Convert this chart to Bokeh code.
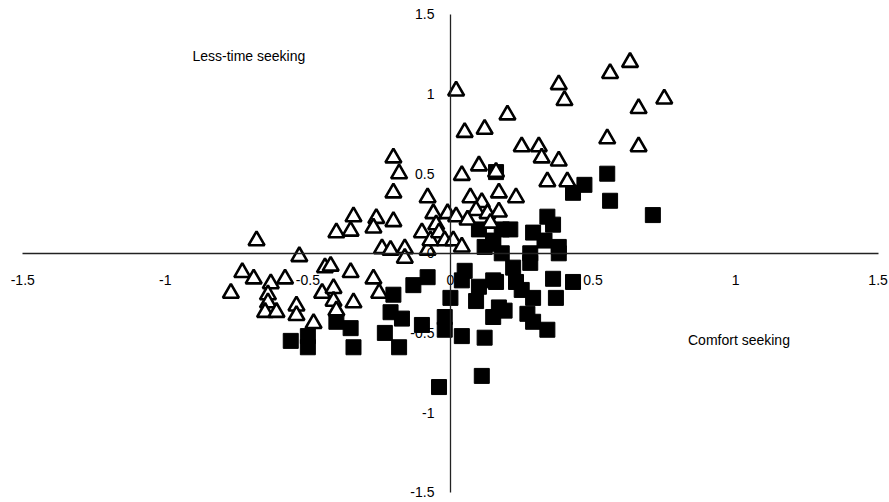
from bokeh.plotting import figure
from bokeh.models import Range1d, FixedTicker, Label
from bokeh.embed import file_html
from bokeh.resources import INLINE

# Less-time seeking group (open triangles)
tri_x = [-0.77, -0.73, -0.69, -0.68, -0.63, -0.64, -0.64, -0.65, -0.61, -0.58,
         -0.54, -0.54, -0.53, -0.48, -0.45, -0.44, -0.42, -0.41, -0.41, -0.40,
         -0.35, -0.34, -0.40, -0.35, -0.34, -0.26, -0.27, -0.20, -0.20, -0.18,
         -0.20, -0.08, -0.27, -0.25, -0.24, -0.21, -0.16, -0.16, -0.08, -0.10,
         -0.07, -0.06, -0.05, -0.04, -0.02, -0.01, 0.01, 0.02, 0.04, 0.04,
         0.10, 0.07, 0.11, 0.17, 0.09, 0.13, 0.17, 0.06, 0.14, 0.23,
         0.16, 0.05, 0.12, 0.20, 0.02, 0.25, 0.31, 0.32, 0.38, 0.34,
         0.41, 0.38, 0.40, 0.55, 0.66, 0.56, 0.63, 0.66, 0.75]
tri_y = [-0.25, -0.12, -0.16, 0.08, -0.19, -0.26, -0.31, -0.37, -0.37, -0.16,
         -0.33, -0.39, -0.02, -0.44, -0.25, -0.09, -0.08, -0.22, -0.30, -0.36,
         -0.12, -0.31, 0.13, 0.14, 0.23, 0.22, 0.16, 0.20, 0.60, 0.50,
         0.38, 0.35, -0.16, -0.25, 0.03, 0.02, 0.03, -0.03, 0.02, 0.13,
         0.08, 0.25, 0.18, 0.13, 0.08, 0.25, 0.08, 0.23, 0.04, 0.49,
         0.55, 0.35, 0.32, 0.38, 0.27, 0.25, 0.26, 0.21, 0.19, 0.35,
         0.51, 0.76, 0.78, 0.87, 1.02, 0.67, 0.67, 0.60, 0.58, 0.45,
         0.45, 1.06, 0.96, 0.72, 0.67, 1.13, 1.20, 0.91, 0.97]

# Comfort seeking group (filled squares)
sq_x = [-0.56, -0.50, -0.50, -0.40, -0.35, -0.34, -0.23, -0.18, -0.21, -0.17,
        -0.10, -0.20, -0.13, -0.08, -0.02, -0.02, 0.04, 0.00, 0.05, 0.04,
        0.10, 0.09, 0.15, 0.17, 0.12, 0.11, -0.04, 0.18, 0.28, 0.38,
        0.22, 0.28, 0.16, 0.23, 0.25, 0.29, 0.36, 0.37, 0.43, 0.15,
        0.19, 0.27, 0.29, 0.34, 0.55, 0.56, 0.71, 0.47, 0.43, 0.34,
        0.36, 0.29, 0.33, 0.38, 0.16, 0.18, 0.21, 0.15, 0.10, 0.15, 0.12]
sq_y = [-0.55, -0.52, -0.59, -0.43, -0.47, -0.59, -0.50, -0.59, -0.37, -0.41,
        -0.45, -0.26, -0.20, -0.15, -0.40, -0.48, -0.52, -0.28, -0.11, -0.17,
        -0.21, -0.30, -0.17, -0.34, -0.53, -0.77, -0.84, 0.00, 0.00, 0.00,
        -0.09, -0.06, -0.18, -0.18, -0.23, -0.28, -0.16, -0.28, -0.18, -0.40,
        -0.36, -0.38, -0.43, -0.48, 0.50, 0.33, 0.24, 0.43, 0.38, 0.23,
        0.18, 0.13, 0.08, 0.04, 0.51, 0.15, 0.15, 0.06, 0.15, 0.08, 0.04]

ticks = [-1.5, -1, -0.5, 0, 0.5, 1, 1.5]
tick_labels = {-1.5: "-1.5", -1: "-1", -0.5: "-0.5", 0: "0", 0.5: "0.5", 1: "1", 1.5: "1.5"}

FONT = "Liberation Sans"

p = figure(width=889, height=502, x_range=Range1d(-1.55, 1.54), y_range=Range1d(-1.565, 1.55),
           output_backend="svg", toolbar_location=None,
           min_border_left=8, min_border_right=0, min_border_top=6, min_border_bottom=0)
p.grid.visible = False
p.outline_line_color = None
p.background_fill_color = "white"
p.border_fill_color = "white"

for ax in (p.xaxis[0], p.yaxis[0]):
    ax.fixed_location = 0
    ax.bounds = (-1.5, 1.5)
    ax.ticker = FixedTicker(ticks=ticks)
    ax.major_label_overrides = tick_labels
    ax.minor_tick_line_color = None
    ax.major_tick_in = 0
    ax.major_tick_out = 0
    ax.axis_line_color = "#222222"
    ax.axis_line_width = 1.3
    ax.major_label_text_font = FONT
    ax.major_label_text_font_size = "14px"
    ax.major_label_text_color = "black"
p.xaxis.major_label_standoff = 22
p.yaxis.major_label_standoff = 16

p.scatter(sq_x, sq_y, marker="square", size=15, fill_color="black", line_color="black")
p.scatter(tri_x, tri_y, marker="triangle", size=16, fill_color="white",
          line_color="black", line_width=2.6)

p.add_layout(Label(x=-0.707, y=1.24, text="Less-time seeking", text_align="center",
                   text_baseline="middle", text_font=FONT, text_font_size="14px",
                   text_color="black"))
p.add_layout(Label(x=1.012, y=-0.547, text="Comfort seeking", text_align="center",
                   text_baseline="middle", text_font=FONT, text_font_size="14px",
                   text_color="black"))

open("out.html", "w").write(file_html(p, INLINE))
